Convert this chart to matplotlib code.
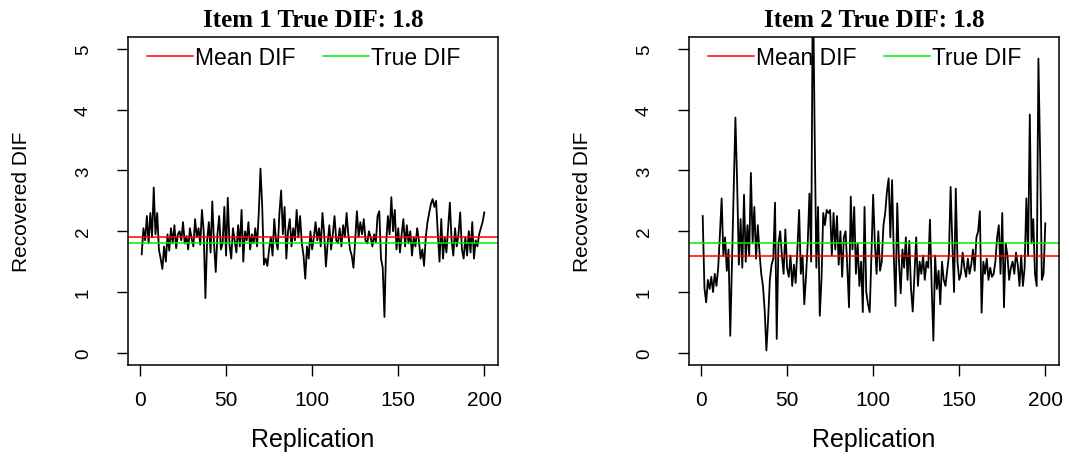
import matplotlib
matplotlib.use("Agg")
import matplotlib.pyplot as plt
import numpy as np

# ---------------- data ----------------
replication = list(range(1, 201))

item1_dif = [
    1.62, 2.05, 1.85, 2.25, 1.80, 2.30, 1.90, 2.72, 1.95, 2.30,
    1.70, 1.55, 1.38, 1.75, 1.50, 1.95, 1.68, 2.05, 1.80, 2.10,
    1.72, 1.95, 2.00, 1.85, 2.15, 1.80, 1.92, 1.70, 2.05, 1.88,
    1.75, 2.20, 1.90, 2.05, 1.78, 2.35, 2.00, 0.90, 1.85, 2.15,
    1.65, 2.49, 1.80, 1.33, 1.95, 2.25, 1.70, 1.80, 2.40, 1.60,
    2.55, 1.78, 1.55, 2.05, 1.85, 1.65, 2.10, 1.75, 2.35, 1.50,
    2.00, 1.85, 2.15, 1.70, 1.95, 1.80, 2.05, 1.75, 2.30, 3.03,
    2.40, 1.45, 1.55, 1.43, 1.70, 1.90, 1.60, 2.20, 1.85, 1.70,
    2.30, 2.67, 1.95, 2.40, 1.55, 2.00, 2.20, 1.75, 2.05, 1.85,
    2.35, 1.90, 2.25, 1.80, 1.60, 1.22, 1.75, 1.55, 2.00, 1.70,
    1.90, 2.15, 1.85, 2.05, 1.75, 2.30, 1.95, 1.42, 1.80, 2.10,
    1.70, 1.95, 2.25, 1.85, 1.80, 2.05, 1.75, 2.10, 1.90, 2.30,
    1.95, 1.70, 1.60, 1.40, 1.85, 2.33, 1.90, 2.15, 1.95, 2.20,
    1.85, 1.80, 2.00, 1.90, 1.75, 1.95, 1.82, 2.25, 2.33, 1.55,
    1.40, 0.59, 1.80, 2.25, 1.95, 2.56, 2.00, 2.35, 1.70, 2.05,
    1.65, 1.95, 2.20, 1.75, 2.10, 1.80, 2.00, 1.60, 1.90, 1.75,
    2.05, 1.85, 1.55, 1.70, 1.43, 1.90, 2.15, 2.30, 2.45, 2.53,
    2.40, 2.50, 1.95, 1.50, 2.20, 1.55, 1.90, 1.65, 2.05, 2.47,
    1.85, 1.60, 2.05, 1.75, 1.95, 2.31, 1.70, 1.55, 1.90, 1.60,
    2.00, 1.65, 2.15, 1.55, 1.85, 1.75, 1.95, 2.05, 2.15, 2.31,
]

item2_dif = [
    2.25, 1.07, 0.83, 1.20, 1.05, 1.25, 1.00, 1.30, 1.10, 1.40,
    1.95, 2.54, 1.60, 1.90, 1.35, 1.70, 0.28, 1.50, 2.70, 3.87,
    2.80, 1.45, 2.20, 1.40, 2.60, 1.50, 2.10, 1.60, 2.96, 1.80,
    2.40, 1.55, 2.10, 1.65, 1.30, 1.10, 0.70, 0.04, 0.55, 1.20,
    1.45, 1.55, 2.47, 0.23, 1.80, 2.00, 1.60, 1.30, 2.03, 1.40,
    1.25, 1.60, 1.10, 1.45, 1.15, 1.70, 2.35, 1.30, 1.60, 0.80,
    1.25, 1.80, 2.62, 1.50, 6.30, 3.69, 1.40, 2.40, 0.61, 1.20,
    2.30, 2.10, 2.35, 2.30, 2.35, 1.60, 2.30, 1.70, 2.25, 1.45,
    2.00, 1.25, 1.90, 2.00, 1.40, 0.75, 2.57, 1.70, 2.40, 1.30,
    1.80, 1.10, 1.50, 0.67, 2.40, 1.00, 0.80, 0.67, 1.60, 2.60,
    1.80, 1.30, 2.00, 1.35, 1.50, 2.10, 2.30, 2.65, 2.87, 1.90,
    2.84, 1.60, 0.77, 2.46, 1.50, 0.98, 1.70, 1.40, 1.90, 1.20,
    1.84, 1.05, 0.68, 1.30, 1.90, 1.10, 1.50, 1.30, 1.60, 1.20,
    1.50, 1.40, 2.19, 1.10, 0.20, 1.60, 1.05, 1.35, 0.80, 1.50,
    1.20, 1.10, 1.35, 1.60, 2.73, 1.80, 1.00, 2.70, 1.50, 1.20,
    1.30, 1.65, 1.40, 1.25, 1.55, 1.30, 1.45, 1.70, 1.35, 1.90,
    2.00, 2.33, 0.66, 1.50, 1.30, 1.55, 1.20, 1.40, 1.25, 1.30,
    1.50, 1.90, 2.10, 1.30, 2.30, 0.75, 1.80, 1.60, 1.20, 1.40,
    1.50, 1.30, 1.65, 1.45, 1.10, 1.60, 1.10, 1.40, 2.54, 1.60,
    3.92, 1.80, 2.20, 1.30, 1.10, 4.84, 3.25, 1.20, 1.30, 2.13,
]

titles = ["Item 1 True DIF: 1.8", "Item 2 True DIF: 1.8"]
true_dif = [1.8, 1.8]
mean_dif = [1.90, 1.59]
x_ticks = [0, 50, 100, 150, 200]
y_ticks = [0, 1, 2, 3, 4, 5]

# ---------------- figure ----------------
W, H = 1069, 460
fig = plt.figure(figsize=(W / 100, H / 100), dpi=100)
plt.rcParams['font.family'] = ['Liberation Sans', 'DejaVu Sans']

box_w = 370 / W
box_h = 328.3 / H
box_y0 = 1 - 366 / H
lefts = [128 / W, 689 / W]

series = [item1_dif, item2_dif]
for k in range(2):
    ax = fig.add_axes([lefts[k], box_y0, box_w, box_h])
    ax.plot(replication, series[k], color='black', lw=1.3)
    ax.axhline(mean_dif[k], color='#ff0000', lw=1.1, label='Mean DIF')
    ax.axhline(true_dif[k], color='#00ee00', lw=1.1, label='True DIF')
    ax.set_xlim(1 - 0.04 * 199, 200 + 0.04 * 199)
    ax.set_ylim(-0.2, 5.2)
    ax.set_xticks(x_ticks)
    ax.set_yticks(y_ticks)
    ax.set_xticklabels([str(v) for v in x_ticks], fontsize=15)
    ax.set_yticklabels([str(v) for v in y_ticks], fontsize=13.5, rotation=90, va='center')
    ax.tick_params(direction='out', length=8, width=1.0, color='black')
    ax.tick_params(axis='x', pad=10)
    ax.tick_params(axis='y', pad=18)
    for s in ax.spines.values():
        s.set_linewidth(1.1)
    ax.set_title(titles[k], fontsize=18, fontweight='bold',
                 family=['Liberation Serif', 'DejaVu Serif'], pad=8)
    ax.set_xlabel('Replication', fontsize=18, va='center')
    ax.set_ylabel('Recovered DIF', fontsize=15, va='center')
    ax.xaxis.set_label_coords(0.5, (366 - 440) / 328.3)
    ax.yaxis.set_label_coords((22 - 128) / 370, 0.5)
    ax.legend(loc='upper left', bbox_to_anchor=(-0.005, 1.035), ncol=2,
              frameon=False, fontsize=16.5, handlelength=2.0,
              handletextpad=0.1, columnspacing=1.2)

fig.savefig('out.png', dpi=100)
